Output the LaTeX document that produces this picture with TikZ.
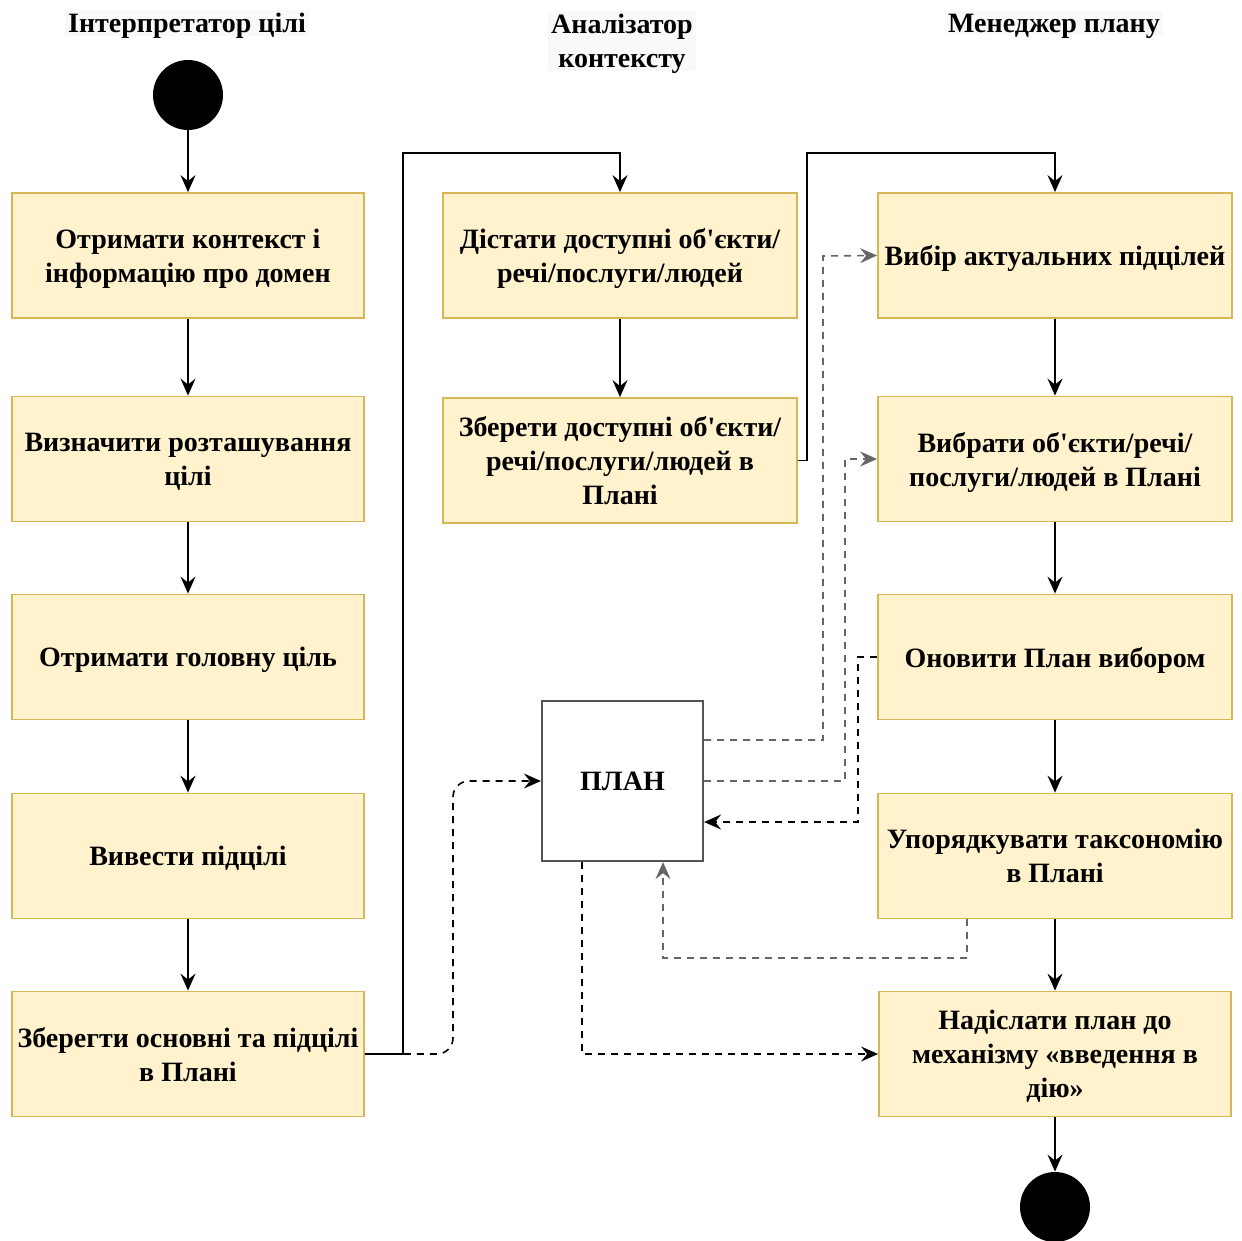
\documentclass[tikz,border=0pt]{standalone}
\usepackage{fontspec}
\setmainfont{Liberation Serif}[Ligatures=TeXOff]
\usetikzlibrary{arrows.meta}
\definecolor{actfill}{HTML}{FFF2CC}
\definecolor{actline}{HTML}{D6B656}
\definecolor{titlebg}{HTML}{F8F9FA}
\definecolor{plandraw}{HTML}{555555}
\definecolor{dgray}{HTML}{666666}
\begin{document}
\begin{tikzpicture}[x=0.5pt,y=-0.5pt,
  txt/.style={font=\bfseries\fontsize{14}{17}\selectfont, align=center, text depth=0pt},
  act/.style={txt, draw=actline, fill=actfill, line width=0.9pt, minimum width=176pt, minimum height=62.5pt, inner sep=0pt},
  plannode/.style={txt, draw=plandraw, fill=white, line width=1.1pt, minimum width=80.5pt, minimum height=80pt, inner sep=0pt},
  ttl/.style={txt, fill=titlebg, inner sep=1.5pt},
  dot/.style={circle, fill=black, draw=none, minimum size=35pt, inner sep=0pt},
  flow/.style={draw=black, line width=0.8pt, -{Stealth[length=8.5pt,width=7.5pt,inset=3pt]}},
  dflow/.style={flow, dash pattern=on 3.5pt off 3pt},
  gflow/.style={dflow, draw=dgray}
]
\useasboundingbox (0,0) rectangle (1242,1241);

% titles
\node[ttl] (t1) at (187,23) {Інтерпретатор цілі};
\node[ttl] (t2) at (622,41) {Аналізатор\\контексту};
\node[ttl] (t3) at (1054,23) {Менеджер плану};

% start / end
\node[dot] (start) at (188,95) {};
\node[dot] (finish) at (1055,1207) {};

% left column
\node[act] (l1) at (188,255.5) {Отримати контекст і\\інформацію про домен};
\node[act] (l2) at (188,459) {Визначити розташування\\цілі};
\node[act] (l3) at (188,657) {Отримати головну ціль};
\node[act] (l4) at (188,856) {Вивести підцілі};
\node[act] (l5) at (188,1054) {Зберегти основні та підцілі\\в Плані};

% middle column
\node[act, minimum width=177pt] (a1) at (620,255.5) {Дістати доступні об'єкти/\\речі/послуги/людей};
\node[act, minimum width=177pt] (a2) at (620,460.5) {Зберети доступні об'єкти/\\речі/послуги/людей в\\Плані};
\node[plannode] (plan) at (622.5,781) {ПЛАН};

% right column
\node[act, minimum width=177pt] (r1) at (1055,255.5) {Вибір актуальних підцілей};
\node[act, minimum width=177pt] (r2) at (1055,459) {Вибрати об'єкти/речі/\\послуги/людей в Плані};
\node[act, minimum width=177pt] (r3) at (1055,657) {Оновити План вибором};
\node[act, minimum width=177pt] (r4) at (1055,856) {Упорядкувати таксономію\\в Плані};
\node[act, minimum width=176pt] (r5) at (1055,1054) {Надіслати план до\\механізму «введення в\\дію»};

% solid flow
\draw[flow] (start) -- (l1);
\draw[flow] (l1) -- (l2);
\draw[flow] (l2) -- (l3);
\draw[flow] (l3) -- (l4);
\draw[flow] (l4) -- (l5);
\coordinate (c1) at (403,153);
\draw[flow] (l5.east) -| (c1) -| (a1.north);
\draw[flow] (a1) -- (a2);
\coordinate (c2) at (807,153);
\draw[flow] (a2.east) -| (c2) -| (r1.north);
\draw[flow] (r1) -- (r2);
\draw[flow] (r2) -- (r3);
\draw[flow] (r3) -- (r4);
\draw[flow] (r4) -- (r5);
\draw[flow] (r5) -- (finish);

% dashed flows
\coordinate (d1) at (453,781);
\draw[dflow, rounded corners=8pt] (l5.east) -| (d1) -- (plan.west);
\coordinate (d2) at (823,256);
\draw[gflow] ([yshift=20.5pt]plan.east) -| (d2) -- (r1.west);
\coordinate (d3) at (845,459);
\draw[gflow] (plan.east) -| (d3) -- (r2.west);
\coordinate (d4) at (858,822);
\draw[dflow] (r3.west) -| (d4) -- ([yshift=-20.5pt]plan.east);
\coordinate (d5) at (663,958);
\draw[gflow] ([xshift=-44pt]r4.south) |- (d5) -- ([xshift=20.25pt]plan.south);
\draw[dflow] ([xshift=-20.25pt]plan.south) |- (r5.west);
\end{tikzpicture}
\end{document}
